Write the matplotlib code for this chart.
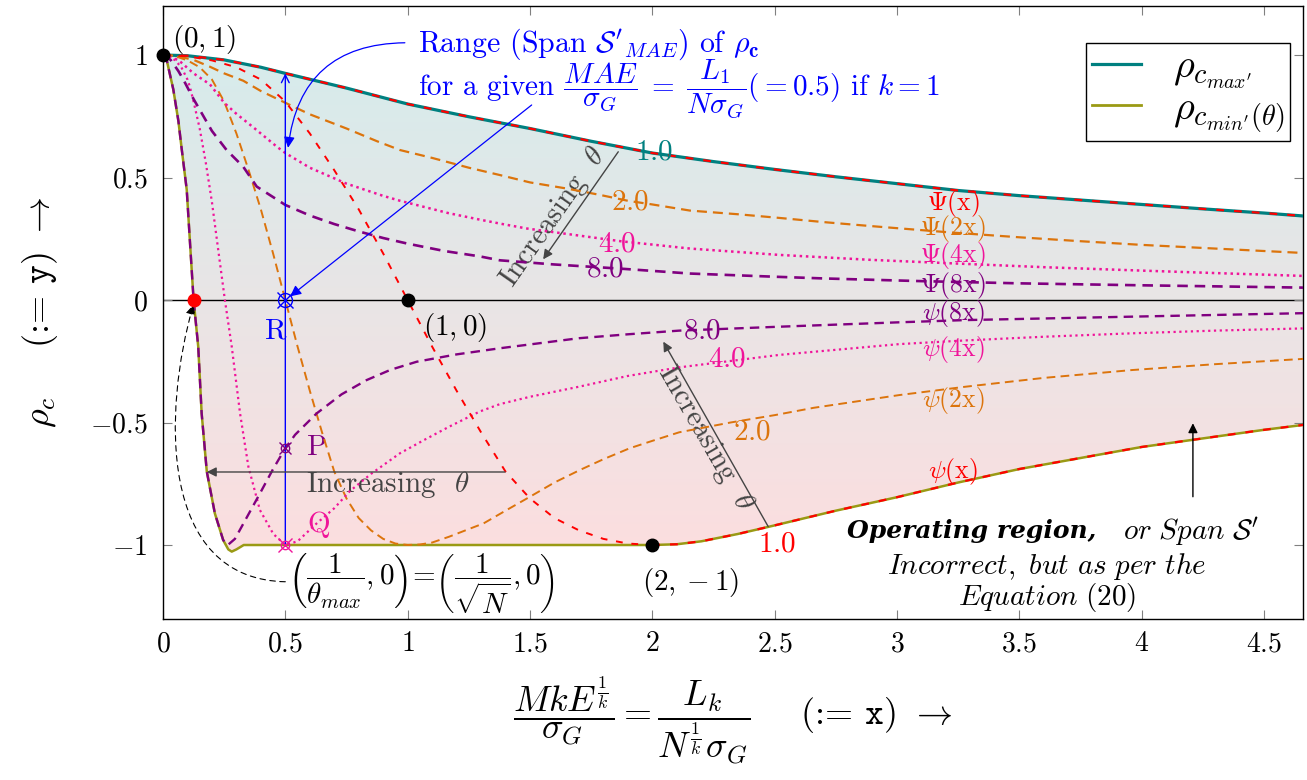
import numpy as np
import matplotlib
matplotlib.use("Agg")
import matplotlib.pyplot as plt
from matplotlib.lines import Line2D
from matplotlib.patches import FancyArrowPatch, Polygon
from matplotlib.path import Path

plt.rcParams['mathtext.fontset'] = 'cm'
plt.rcParams['font.family'] = 'serif'
plt.rcParams['font.serif'] = ['cmr10']
plt.rcParams['axes.formatter.use_mathtext'] = True

# upper envelope Psi(x) = rho_c max'
psi1_x = [0, 0.1, 0.25, 0.4, 0.5, 0.75, 1.0, 1.25, 1.5, 1.75, 2.0, 2.25, 2.5, 2.75,
          3.0, 3.25, 3.5, 3.75, 4.0, 4.25, 4.5, 4.7]
psi1_y = [1.0, 0.997, 0.98, 0.95, 0.925, 0.865, 0.80, 0.748, 0.70, 0.648, 0.60, 0.565,
          0.533, 0.503, 0.475, 0.447, 0.426, 0.408, 0.39, 0.372, 0.355, 0.34]

# theta = 1 lower branch: (0,1) -> (1,0) -> (2,-1), then psi(x)
cross_x = [0, 0.1, 0.2, 0.3, 0.4, 0.5, 0.6, 0.7, 0.8, 0.9, 1.0, 1.1, 1.2, 1.3, 1.4,
           1.5, 1.6, 1.7, 1.8, 1.9, 2.0]
cross_y = [1.0, 0.995, 0.978, 0.95, 0.90, 0.81, 0.68, 0.53, 0.37, 0.19, 0.0, -0.19,
           -0.37, -0.54, -0.70, -0.81, -0.89, -0.94, -0.975, -0.994, -1.0]
psi_low_x = [2.0, 2.1, 2.2, 2.35, 2.5, 2.75, 3.0, 3.25, 3.5, 3.75, 4.0, 4.25, 4.5, 4.7]
psi_low_y = [-1.0, -0.997, -0.985, -0.955, -0.92, -0.86, -0.805, -0.745, -0.69, -0.645,
             -0.60, -0.565, -0.53, -0.505]

# lower envelope rho_c min'(theta)
min_x = [0, 0.015, 0.042, 0.063, 0.076, 0.097, 0.11, 0.125, 0.144, 0.158, 0.179, 0.212,
         0.246, 0.267, 0.281, 0.30, 0.33, 1.0, 2.0, 2.1, 2.2, 2.35, 2.5, 2.75, 3.0, 3.25,
         3.5, 3.75, 4.0, 4.25, 4.5, 4.7]
min_y = [1.0, 0.98, 0.86, 0.73, 0.62, 0.45, 0.24, 0.0, -0.19, -0.463, -0.70, -0.871,
         -0.98, -1.018, -1.027, -1.018, -1.0, -1.0, -1.0, -0.997, -0.985, -0.955, -0.92,
         -0.86, -0.805, -0.745, -0.69, -0.645, -0.60, -0.565, -0.53, -0.505]

# theta = 2
up2_x = [0, 0.05, 0.125, 0.192, 0.25, 0.328, 0.4, 0.5, 0.6, 0.75, 0.875, 0.969, 1.1,
         1.25, 1.377, 1.5, 1.65, 1.786, 1.9, 2.0, 2.154, 2.35, 2.52, 2.7, 2.89, 3.216,
         3.5, 3.75, 4.0, 4.3, 4.7]
up2_y = [1.0, 0.997, 0.98, 0.952, 0.925, 0.895, 0.853, 0.805, 0.758, 0.70, 0.648, 0.612,
         0.58, 0.54, 0.51, 0.48, 0.455, 0.429, 0.405, 0.39, 0.365, 0.35, 0.335, 0.318,
         0.302, 0.276, 0.256, 0.24, 0.225, 0.21, 0.19]
lo2_x = [0, 0.05, 0.1, 0.15, 0.2, 0.25, 0.3, 0.35, 0.4, 0.45, 0.5, 0.55, 0.6, 0.65,
         0.7, 0.75, 0.8, 0.85, 0.9, 0.95, 1.0, 1.05, 1.1, 1.17, 1.25, 1.31, 1.4, 1.5,
         1.6, 1.704, 1.8, 1.908, 2.0, 2.11, 2.32, 2.5, 2.66, 3.01, 3.28, 3.6, 3.96,
         4.3, 4.7]
lo2_y = [1.0, 0.995, 0.978, 0.95, 0.90, 0.81, 0.68, 0.53, 0.37, 0.19, 0.0, -0.19,
         -0.37, -0.54, -0.70, -0.81, -0.89, -0.94, -0.975, -0.994, -1.0, -0.998, -0.99,
         -0.966, -0.935, -0.912, -0.86, -0.803, -0.745, -0.694, -0.65, -0.605, -0.575,
         -0.54, -0.50, -0.47, -0.44, -0.388, -0.354, -0.318, -0.286, -0.262, -0.238]

# theta = 4
up4_x = [0, 0.0625, 0.125, 0.192, 0.25, 0.3, 0.375, 0.465, 0.5, 0.6, 0.75, 0.9, 0.969,
         1.165, 1.295, 1.377, 1.486, 1.87, 2.154, 2.52, 2.89, 3.216, 3.6, 4.0, 4.3, 4.7]
up4_y = [1.0, 0.98, 0.925, 0.88, 0.805, 0.76, 0.70, 0.626, 0.60, 0.54, 0.475, 0.425,
         0.405, 0.355, 0.328, 0.312, 0.292, 0.24, 0.21, 0.184, 0.164, 0.15, 0.134, 0.12,
         0.11, 0.097]
lo4_x = [0, 0.025, 0.05, 0.075, 0.1, 0.11, 0.125, 0.15, 0.175, 0.2, 0.225, 0.253, 0.281,
         0.315, 0.349, 0.396, 0.451, 0.5, 0.55, 0.628, 0.7, 0.764, 0.85, 0.968, 1.07,
         1.17, 1.295, 1.377, 1.5, 1.7, 1.9, 2.11, 2.52, 3.01, 3.28, 3.6, 3.96, 4.3, 4.7]
lo4_y = [1.0, 0.995, 0.978, 0.95, 0.90, 0.87, 0.81, 0.70, 0.56, 0.40, 0.21, 0.0, -0.19,
         -0.463, -0.68, -0.857, -0.955, -1.0, -0.985, -0.912, -0.85, -0.78, -0.71, -0.626,
         -0.57, -0.517, -0.455, -0.425, -0.395, -0.354, -0.31, -0.275, -0.224, -0.18,
         -0.165, -0.15, -0.136, -0.125, -0.115]

# theta = 8
up8_x = [0, 0.031, 0.0625, 0.083, 0.125, 0.151, 0.2, 0.26, 0.328, 0.383, 0.5, 0.6, 0.7,
         0.8, 0.9, 1.0, 1.15, 1.295, 1.377, 1.6, 1.87, 2.154, 2.5, 2.7, 3.1, 3.5, 4.0, 4.7]
up8_y = [1.0, 0.98, 0.935, 0.90, 0.82, 0.775, 0.69, 0.612, 0.544, 0.463, 0.388, 0.345,
         0.31, 0.28, 0.253, 0.23, 0.20, 0.178, 0.162, 0.145, 0.128, 0.108, 0.095, 0.088,
         0.077, 0.068, 0.06, 0.05]
lo8_x = [0, 0.015, 0.042, 0.063, 0.076, 0.097, 0.11, 0.125, 0.144, 0.158, 0.179, 0.212,
         0.246, 0.265, 0.294, 0.33, 0.396, 0.45, 0.5, 0.54, 0.628, 0.73, 0.832, 0.93,
         1.037, 1.2, 1.377, 1.55, 1.70, 1.9, 2.11, 2.52, 3.01, 3.28, 3.96, 4.7]
lo8_y = [1.0, 0.98, 0.86, 0.73, 0.62, 0.45, 0.24, 0.0, -0.19, -0.463, -0.70, -0.871,
         -0.98, -1.0, -0.975, -0.91, -0.79, -0.69, -0.605, -0.55, -0.463, -0.385, -0.327,
         -0.285, -0.252, -0.222, -0.197, -0.175, -0.156, -0.14, -0.125, -0.109, -0.091,
         -0.082, -0.068, -0.053]

# special points
key_x = [0, 1, 2]
key_y = [1, 0, -1]
theta_max = 8.0
x_given = 0.5
R_y, P_y, Q_y = 0.0, -0.605, -1.0

x_ticks = [0, 0.5, 1, 1.5, 2, 2.5, 3, 3.5, 4, 4.5]
x_ticklabels = ['$0$', '$0.5$', '$1$', '$1.5$', '$2$', '$2.5$', '$3$', '$3.5$', '$4$', '$4.5$']
y_ticks = [-1, -0.5, 0, 0.5, 1]
y_ticklabels = ['$-1$', '$-0.5$', '$0$', '$0.5$', '$1$']

TEAL = '#008080'
OLIVE = '#9a9a14'
RED = '#ff0000'
ORANGE = '#dc740c'
PINK = '#f0149a'
PURPLE = '#800080'
BLUE = '#0000ff'
GREY = '#444444'

fig = plt.figure(figsize=(13.07, 7.8), dpi=100)
ax = fig.add_axes([163 / 1307, 1 - 618.5 / 780, 1140 / 1307, 612.5 / 780])

# shaded operating region, teal on top fading to pink at the bottom
poly = np.column_stack([np.concatenate([psi1_x, min_x[::-1]]),
                        np.concatenate([psi1_y, min_y[::-1]])])
region = Polygon(poly, closed=True, facecolor='none', edgecolor='none')
ax.add_patch(region)
t = np.linspace(0, 1, 256)[:, None, None]
top_c = np.array([0.84, 0.925, 0.925])
bot_c = np.array([0.99, 0.87, 0.875])
grad = top_c * (1 - t) + bot_c * t
im = ax.imshow(grad, extent=[0, 4.7, -1.05, 1.0], aspect='auto', origin='upper',
               zorder=0, interpolation='bilinear')
im.set_clip_path(region)

ax.axhline(0, color='black', lw=1.0, zorder=1)

ax.plot(psi1_x, psi1_y, color=TEAL, lw=2.3, zorder=3)
ax.plot(min_x, min_y, color=OLIVE, lw=1.8, zorder=3)

dash = (4.5, 2.7)
ax.plot(up2_x, up2_y, color=ORANGE, lw=1.6, dashes=dash, zorder=4)
ax.plot(lo2_x, lo2_y, color=ORANGE, lw=1.4, dashes=dash, zorder=4)
ax.plot(up4_x, up4_y, color=PINK, lw=1.8, dashes=(1, 1.5), zorder=4)
ax.plot(lo4_x, lo4_y, color=PINK, lw=1.6, dashes=(1, 1.6), zorder=4)
ax.plot(up8_x, up8_y, color=PURPLE, lw=1.9, dashes=(4, 2.6), zorder=4)
ax.plot(lo8_x, lo8_y, color=PURPLE, lw=1.7, dashes=(4, 2.6), zorder=4)

red_dash = (3.5, 4.5)
ax.plot(psi1_x, psi1_y, color=RED, lw=1.6, dashes=red_dash, zorder=5)
ax.plot(cross_x, cross_y, color=RED, lw=1.4, dashes=red_dash, zorder=5)
ax.plot(psi_low_x, psi_low_y, color=RED, lw=1.6, dashes=red_dash, zorder=5)

# points on the curves
ax.plot(key_x, key_y, 'o', color='black', ms=9, zorder=8, clip_on=False)
ax.plot([1 / theta_max], [0], 'o', color=RED, ms=9, zorder=8)

# span of rho_c at the given x
ax.annotate('', xy=(x_given, 0.925), xytext=(x_given, Q_y),
            arrowprops=dict(arrowstyle='->', color=BLUE, lw=1.0, shrinkA=0, shrinkB=0,
                            mutation_scale=14), zorder=6)
ax.plot([x_given], [R_y], 'o', mfc='none', mec=BLUE, ms=10, mew=1.0, zorder=7)
ax.plot([x_given], [R_y], 'x', color=BLUE, ms=12, mew=1.0, zorder=7)
ax.plot([x_given], [P_y], 'o', mfc='none', mec=PURPLE, ms=6, mew=1.0, zorder=7)
ax.plot([x_given], [P_y], 'x', color=PURPLE, ms=9, mew=1.0, zorder=7)
ax.plot([x_given], [Q_y], 'o', mfc='none', mec=PINK, ms=6, mew=1.0, zorder=7)
ax.plot([x_given], [Q_y], 'x', color=PINK, ms=10, mew=1.0, zorder=7)
ax.text(0.462, -0.127, 'R', color=BLUE, fontsize=21, ha='center', va='center')
ax.text(0.629, -0.602, 'P', color=PURPLE, fontsize=21, ha='center', va='center')
ax.text(0.638, -0.916, 'Q', color=PINK, fontsize=21, ha='center', va='center')

ax.text(1.042, 1.045, r"Range (Span $\mathcal{S}^{\prime}{}_{MAE}$) of $\rho_{\mathbf{c}}$",
        color=BLUE, fontsize=21.5, ha='left', va='center')
ax.text(1.042, 0.862, r"for a given $\dfrac{MAE}{\sigma_G}\;=\;\dfrac{L_1}{N\sigma_G}(=0.5)$ if $k=1$",
        color=BLUE, fontsize=21, ha='left', va='center')
ax.add_patch(FancyArrowPatch((1.0, 1.05), (0.51, 0.61), connectionstyle='arc3,rad=0.45',
                             arrowstyle='-|>', mutation_scale=16, color=BLUE, lw=0.9,
                             zorder=6))
ax.annotate('', xy=(0.52, 0.015), xytext=(1.507, 0.796),
            arrowprops=dict(arrowstyle='-|>', color=BLUE, lw=0.9, shrinkA=0, shrinkB=0,
                            mutation_scale=16), zorder=6)

# labelled points
ax.text(0.037, 1.065, r'$(0,1)$', fontsize=21, ha='left', va='center')
ax.text(1.063, -0.114, r'$(1,0)$', fontsize=21, ha='left', va='center')
ax.text(2.158, -1.153, r'$(2,-1)$', fontsize=21, ha='center', va='center')
ax.text(1.058, -1.163,
        r'$\left(\dfrac{1}{\theta_{max}},0\right)\!=\!\left(\dfrac{1}{\sqrt{N}},0\right)$',
        fontsize=21, ha='center', va='center')
hook = Path([(0.5, -1.15), (-0.02, -1.14), (0.0, -0.45), (0.124, -0.02)],
            [Path.MOVETO, Path.CURVE4, Path.CURVE4, Path.CURVE4])
ax.add_patch(FancyArrowPatch(path=hook, arrowstyle='-|>', mutation_scale=14,
                             color='black', lw=0.8, linestyle=(0, (5, 4)),
                             transform=ax.transData, zorder=6))

# theta labels along the curves
for lx, ly, txt, c in [(2.007, 0.602, '1.0', TEAL), (1.908, 0.398, '2.0', ORANGE),
                       (1.855, 0.229, '4.0', PINK), (1.806, 0.127, '8.0', PURPLE),
                       (2.203, -0.127, '8.0', PURPLE), (2.305, -0.241, '4.0', PINK),
                       (2.407, -0.541, '2.0', ORANGE), (2.509, -0.996, '1.0', RED)]:
    ax.text(lx, ly, '$' + txt + '$', color=c, fontsize=21, ha='center', va='center',
            zorder=9)

for ly, txt, c in [(0.395, r'$\Psi(\mathrm{x})$', RED), (0.29, r'$\Psi(2\mathrm{x})$', ORANGE),
                   (0.182, r'$\Psi(4\mathrm{x})$', PINK), (0.058, r'$\Psi(8\mathrm{x})$', PURPLE),
                   (-0.056, r'$\psi(8\mathrm{x})$', PURPLE), (-0.204, r'$\psi(4\mathrm{x})$', PINK),
                   (-0.41, r'$\psi(2\mathrm{x})$', ORANGE), (-0.70, r'$\psi(\mathrm{x})$', RED)]:
    ax.text(3.23, ly, txt, color=c, fontsize=18.5, ha='center', va='center', zorder=9)

# increasing theta arrows
arrow_kw = dict(arrowstyle='-|>', color=GREY, lw=1.0, shrinkA=0, shrinkB=0, mutation_scale=14)
ax.annotate('', xy=(1.554, 0.166), xytext=(1.861, 0.605), arrowprops=arrow_kw, zorder=6)
ax.text(1.594, 0.339, r'Increasing  $\theta$', color=GREY, fontsize=21, rotation=55,
        rotation_mode='anchor', ha='center', va='center')
ax.annotate('', xy=(2.045, -0.17), xytext=(2.474, -0.925), arrowprops=arrow_kw, zorder=6)
ax.text(2.215, -0.563, r'Increasing  $\theta$', color=GREY, fontsize=21, rotation=-60,
        rotation_mode='anchor', ha='center', va='center')
ax.annotate('', xy=(0.179, -0.702), xytext=(1.398, -0.702), arrowprops=arrow_kw, zorder=6)
ax.text(0.92, -0.755, r'Increasing  $\theta$', color=GREY, fontsize=21, ha='center',
        va='center')

# operating region note
ax.text(3.817, -0.943, 'Operating region,', fontsize=18, family='DejaVu Serif',
        style='italic', weight='bold', ha='right', va='center')
ax.text(3.923, -0.943, r"$\mathit{or\ Span}\ \mathcal{S}^{\prime}$", fontsize=21,
        ha='left', va='center')
ax.text(3.613, -1.086, r"$\mathit{Incorrect,\ but\ as\ per\ the}$", fontsize=21,
        ha='center', va='center')
ax.text(3.613, -1.214, r"$\mathit{Equation}\ (20)$", fontsize=21, ha='center', va='center')
ax.annotate('', xy=(4.21, -0.503), xytext=(4.21, -0.803),
            arrowprops=dict(arrowstyle='-|>', color='black', lw=1.0, shrinkA=0, shrinkB=0,
                            mutation_scale=14), zorder=6)

handles = [Line2D([], [], color=TEAL, lw=2.3), Line2D([], [], color=OLIVE, lw=2.0)]
leg = ax.legend(handles, [r'$\rho_{c_{max^{\prime}}}$', r'$\rho_{c_{min^{\prime}}(\theta)}$'],
                loc='upper right', bbox_to_anchor=(0.989, 0.939), borderaxespad=0,
                fontsize=29, fancybox=False, edgecolor='black', framealpha=1,
                handlelength=1.2, handletextpad=0.8, borderpad=0.15, labelspacing=0.0)
leg.get_frame().set_linewidth(1.0)

ax.set_xlim(0, 4.66)
ax.set_ylim(-1.3, 1.2)
ax.set_xticks(x_ticks)
ax.set_xticklabels(x_ticklabels)
ax.set_yticks(y_ticks)
ax.set_yticklabels(y_ticklabels)
ax.tick_params(direction='in', length=6.5, width=0.8, color='0.5', top=True, right=True,
               labelsize=20)
ax.tick_params(axis='x', pad=9)
ax.tick_params(axis='y', pad=11)
for s in ax.spines.values():
    s.set_linewidth(1.0)

ax.set_xlabel(r'$\dfrac{MkE^{\frac{1}{k}}}{\sigma_G}=\dfrac{L_k}{N^{\frac{1}{k}}\sigma_G}$'
              r'    (:= $\mathtt{x}$) $\rightarrow$', fontsize=26, labelpad=12)
ax.set_ylabel(r'$\rho_c$    (:= $\mathtt{y}$) $\rightarrow$', fontsize=26, labelpad=22)

fig.savefig('out.png', dpi=100)
